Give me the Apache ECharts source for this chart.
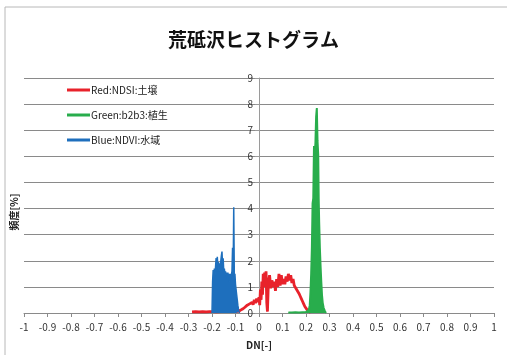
<!DOCTYPE html>
<html>
<head>
<meta charset="utf-8">
<script src="https://cdn.jsdelivr.net/npm/echarts@6/dist/echarts.min.js"></script>
<style>
  html, body { margin: 0; padding: 0; background: #fff; }
  #chart { width: 507px; height: 355px; }
</style>
</head>
<body>
<div id="chart"></div>
<script>
// histogram data, DN value / frequency [%]
const redX = [-0.285, -0.27, -0.255, -0.24, -0.225, -0.21, -0.2, -0.18, -0.16, -0.14, -0.12, -0.1, -0.09, -0.08, -0.07, -0.06, -0.05, -0.04, -0.035, -0.03, -0.025, -0.02, -0.015, -0.01, -0.005, 0, 0.003, 0.006, 0.009, 0.012, 0.015, 0.018, 0.021, 0.024, 0.027, 0.03, 0.033, 0.036, 0.04, 0.045, 0.05, 0.055, 0.06, 0.065, 0.07, 0.075, 0.08, 0.085, 0.09, 0.095, 0.1, 0.105, 0.11, 0.115, 0.12, 0.125, 0.13, 0.135, 0.14, 0.145, 0.15, 0.155, 0.16, 0.165, 0.17, 0.175, 0.18, 0.185, 0.19, 0.195, 0.2, 0.205, 0.21, 0.215, 0.22];
const redY = [0.04, 0.05, 0.04, 0.05, 0.04, 0.05, 0.05, 0.04, 0.05, 0.05, 0.05, 0.05, 0.06, 0.1, 0.15, 0.22, 0.3, 0.35, 0.28, 0.4, 0.32, 0.5, 0.38, 0.55, 0.42, 0.6, 0.3, 0.9, 0.5, 1.2, 0.7, 1.5, 1.0, 1.55, 1.1, 1.6, 0.4, 0.05, 1.2, 1.45, 0.95, 1.25, 1.0, 1.2, 0.85, 1.3, 1.0, 1.5, 1.05, 1.45, 1.1, 1.3, 1.1, 1.4, 1.2, 1.5, 1.25, 1.45, 1.15, 1.3, 1.05, 1.0, 0.9, 0.85, 0.75, 0.65, 0.55, 0.45, 0.35, 0.25, 0.2, 0.12, 0.08, 0.05, 0.02];

const greenX = [0.125, 0.14, 0.155, 0.17, 0.185, 0.2, 0.208, 0.212, 0.216, 0.219, 0.222, 0.225, 0.228, 0.231, 0.234, 0.237, 0.24, 0.243, 0.246, 0.249, 0.252, 0.254, 0.256, 0.259, 0.262, 0.265, 0.268, 0.271, 0.275, 0.28, 0.285];
const greenY = [0.02, 0.02, 0.03, 0.02, 0.03, 0.04, 0.06, 0.12, 0.3, 0.8, 1.5, 2.5, 4.2, 4.4, 6.4, 6.1, 6.5, 7.5, 7.85, 6.6, 6.06, 4.4, 3.5, 2.5, 1.8, 1.2, 0.7, 0.4, 0.2, 0.08, 0];

const blueX = [-0.2, -0.1975, -0.195, -0.1925, -0.19, -0.1875, -0.185, -0.1825, -0.18, -0.1775, -0.175, -0.1725, -0.17, -0.1675, -0.165, -0.1625, -0.16, -0.1575, -0.155, -0.1525, -0.15, -0.1475, -0.145, -0.1425, -0.14, -0.1375, -0.135, -0.1325, -0.13, -0.1275, -0.125, -0.1225, -0.12, -0.1175, -0.115, -0.1125, -0.11, -0.1075, -0.105, -0.1025, -0.1, -0.0975, -0.095, -0.0925, -0.09, -0.0875, -0.085, -0.0825];
const blueY = [0, 1.2, 1.65, 1.3, 1.7, 1.4, 1.75, 2.1, 1.6, 2.15, 1.8, 1.95, 1.6, 1.9, 1.7, 2.0, 2.2, 2.35, 1.8, 2.1, 1.6, 1.7, 1.5, 1.6, 1.4, 1.55, 1.3, 1.55, 1.4, 1.5, 1.2, 1.5, 1.3, 1.45, 1.6, 2.5, 1.5, 4.05, 1.4, 1.5, 1.1, 0.9, 0.7, 0.5, 0.3, 0.15, 0.05, 0];

const seriesNames = ['Red:NDSI:土壌', 'Green:b2b3:植生', 'Blue:NDVI:水域'];
const colors = ['#e8222b', '#28ad4c', '#1e6fbd'];

function pairs(xs, ys) {
  return xs.map(function (x, i) { return [x, ys[i]]; });
}

var dom = document.getElementById('chart');
var myChart = echarts.init(dom, null, { renderer: 'canvas' });

// y axis sits at DN = 0, i.e. middle of the plot
var gridLeft = 24, gridRight = 13;
var plotW = 507 - gridLeft - gridRight;

var option = {
  backgroundColor: '#fff',
  animation: false,
  textStyle: { fontFamily: 'Noto Sans CJK JP' },
  title: {
    text: '荒砥沢ヒストグラム',
    left: 'center',
    top: 25,
    textStyle: { fontSize: 19, fontWeight: 'bold', color: '#111', fontFamily: 'Noto Sans CJK JP' }
  },
  legend: {
    orient: 'vertical',
    left: 62,
    top: 80,
    itemGap: 15,
    itemWidth: 23,
    itemHeight: 3,
    icon: 'rect',
    data: seriesNames,
    textStyle: { fontSize: 10, color: '#222', padding: [0, 0, 0, -4] }
  },
  grid: { left: gridLeft, right: gridRight, top: 78, bottom: 38 },
  xAxis: {
    type: 'value',
    min: -1,
    max: 1,
    interval: 0.1,
    name: 'DN[-]',
    nameLocation: 'middle',
    nameGap: 27,
    nameTextStyle: { fontSize: 10, fontWeight: 'bold', color: '#222' },
    axisLine: { show: true, lineStyle: { color: '#8a8a8a', width: 1 } },
    axisTick: { show: true, length: 4, lineStyle: { color: '#8a8a8a' } },
    axisLabel: { fontSize: 10, color: '#333', margin: 9 },
    splitLine: { show: false }
  },
  yAxis: {
    type: 'value',
    min: 0,
    max: 9,
    interval: 1,
    offset: -plotW / 2,
    axisLine: { show: true, onZero: false, lineStyle: { color: '#9a9a9a', width: 1 } },
    axisTick: { show: true, length: 4, lineStyle: { color: '#9a9a9a' } },
    axisLabel: { fontSize: 10, color: '#333', margin: 6 },
    splitLine: { show: true, lineStyle: { color: '#8a8a8a', width: 1 } }
  },
  graphic: [
    {
      type: 'rect',
      shape: { x: 5, y: 7, width: 520, height: 360 },
      style: { fill: 'none', stroke: '#b8b8b8', lineWidth: 1 },
      silent: true
    },
    {
      type: 'text',
      x: 14,
      y: 212,
      rotation: Math.PI / 2,
      style: {
        text: '頻度[%]',
        fontSize: 10,
        fontWeight: 'bold',
        fill: '#222',
        fontFamily: 'Noto Sans CJK JP',
        align: 'center',
        verticalAlign: 'middle'
      }
    }
  ],
  series: [
    {
      name: seriesNames[0],
      type: 'line',
      data: pairs(redX, redY),
      showSymbol: false,
      lineStyle: { color: colors[0], width: 2.8 },
      itemStyle: { color: colors[0] },
      z: 2
    },
    {
      name: seriesNames[1],
      type: 'line',
      data: pairs(greenX, greenY),
      showSymbol: false,
      lineStyle: { color: colors[1], width: 2 },
      itemStyle: { color: colors[1] },
      areaStyle: { color: colors[1], opacity: 1 },
      z: 3
    },
    {
      name: seriesNames[2],
      type: 'line',
      data: pairs(blueX, blueY),
      showSymbol: false,
      lineStyle: { color: colors[2], width: 1.5 },
      itemStyle: { color: colors[2] },
      areaStyle: { color: colors[2], opacity: 1 },
      z: 4
    }
  ]
};

if (option && typeof option === 'object') {
  myChart.setOption(option);
}

window.addEventListener('resize', myChart.resize);
</script>
</body>
</html>
